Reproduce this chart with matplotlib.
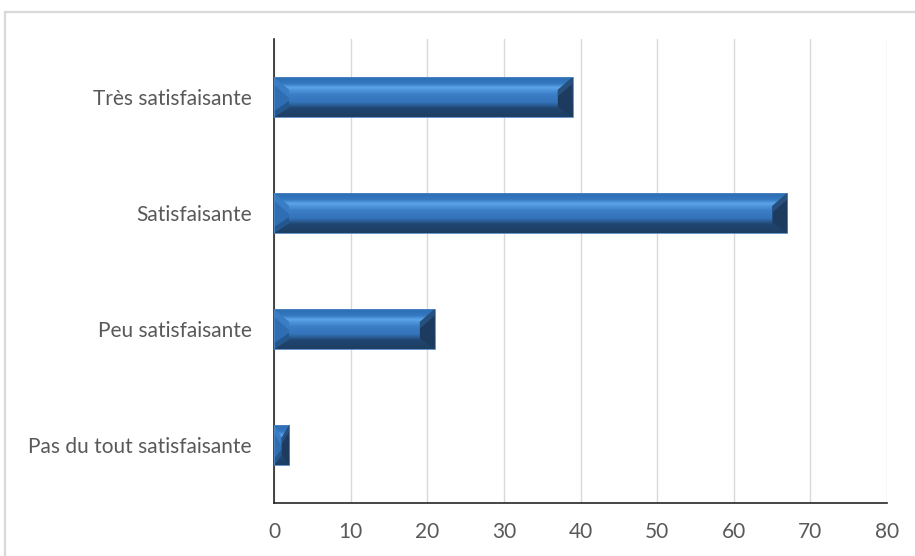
import numpy as np
import matplotlib
matplotlib.use("Agg")
import matplotlib.pyplot as plt
from matplotlib.patches import Polygon, Rectangle
from matplotlib.colors import LinearSegmentedColormap

categories = ["Très satisfaisante", "Satisfaisante", "Peu satisfaisante",
              "Pas du tout satisfaisante"]
values = [39, 67, 21, 2]
x_ticks = [0, 10, 20, 30, 40, 50, 60, 70, 80]

plt.rcParams["font.family"] = ["Lato", "DejaVu Sans"]
TEXT = "#595959"

fig = plt.figure(figsize=(9.15, 5.56), dpi=100)
ax = fig.add_axes([274 / 915, 1 - 503 / 556, 613 / 915, 464 / 556])

# outer chart frame (runs off the right and bottom edges)
fig.patches.append(Rectangle((5 / 915, -0.05), 1.2, 1 - 12 / 556 + 0.05,
                             transform=fig.transFigure, fill=False,
                             edgecolor="#D9D9D9", linewidth=1.6, zorder=0))

n = len(categories)
pos = np.arange(n)[::-1]          # first category on top
bar_h = 0.345

ax.set_xlim(0, 80)
ax.set_ylim(-0.5, n - 0.5)

# vertical shading of the bar face, top -> bottom
face = LinearSegmentedColormap.from_list("face", [
    (0.00, "#2C6BB0"), (0.18, "#3378C0"), (0.28, "#5CA4E8"),
    (0.36, "#4B91D8"), (0.45, "#3B7EC7"), (0.64, "#3473BA"),
    (0.72, "#2A5C93"), (0.78, "#20466F"), (1.00, "#1E3E64")])
grad = np.linspace(0, 1, 256).reshape(-1, 1)

bars = ax.barh(pos, values, height=bar_h, color="#3476BD",
               edgecolor="none", zorder=3)

# pixel -> data scale for the bevel size
px_x = 80 / 613
px_y = n / 464
bev_x = 15 * px_x
bev_top = 13 * px_y
bev_bot = 10 * px_y

for rect, v in zip(bars, values):
    x0, y0 = rect.get_x(), rect.get_y()
    w, h = rect.get_width(), rect.get_height()
    y1 = y0 + h
    # row 0 of grad sits at the top edge of the bar
    im = ax.imshow(grad, cmap=face, aspect="auto", origin="upper",
                   extent=(x0, x0 + w, y0, y1), zorder=4,
                   interpolation="bilinear")
    im.set_clip_path(rect)
    bx = min(bev_x, w / 2)
    # left bevel
    ax.add_patch(Polygon([(x0, y0), (x0, y1), (x0 + bx, y1 - bev_top),
                          (x0 + bx, y0 + bev_bot)], closed=True,
                         facecolor="#2F6EB2", edgecolor="none", zorder=5))
    ax.add_patch(Polygon([(x0, y1), (x0 + bx, y1 - bev_top),
                          (x0 + bx, y1 - bev_top * 1.6), (x0, y1 - bev_top * 0.6)],
                         closed=True, facecolor="#3C82CB", edgecolor="none",
                         zorder=5, alpha=0.8))
    ax.add_patch(Polygon([(x0, y0), (x0 + bx, y0 + bev_bot),
                          (x0 + bx, y0 + bev_bot * 1.6), (x0, y0 + bev_bot * 0.6)],
                         closed=True, facecolor="#25578F", edgecolor="none",
                         zorder=5))
    # right bevel
    xr = x0 + w
    ax.add_patch(Polygon([(xr, y0), (xr, y1), (xr - bx, y1 - bev_top),
                          (xr - bx, y0 + bev_bot)], closed=True,
                         facecolor="#1D3B5F", edgecolor="none", zorder=5))
    ax.add_patch(Polygon([(xr, y1), (xr - bx, y1 - bev_top),
                          (xr - bx, y1 - bev_top * 1.5), (xr, y1 - bev_top * 0.5)],
                         closed=True, facecolor="#28507E", edgecolor="none",
                         zorder=5))
    ax.add_patch(Rectangle((x0, y0), w, h, fill=False, edgecolor="#4F86C2",
                           linewidth=0.6, zorder=6))

ax.set_yticks(pos)
ax.set_yticklabels(categories, color=TEXT, fontsize=15)
ax.set_xticks(x_ticks)
ax.set_xticklabels([str(t) for t in x_ticks], color=TEXT, fontsize=15)
ax.tick_params(axis="y", length=0, pad=16)
ax.tick_params(axis="x", length=0, pad=14)

ax.grid(axis="x", color="#D9D9D9", linewidth=1.0, zorder=0)
ax.set_axisbelow(True)
for s in ("top", "right"):
    ax.spines[s].set_visible(False)
ax.spines["left"].set_color("#262626")
ax.spines["bottom"].set_color("#262626")
ax.spines["left"].set_linewidth(1.2)
ax.spines["bottom"].set_linewidth(1.2)

fig.savefig("out.png", dpi=100)
